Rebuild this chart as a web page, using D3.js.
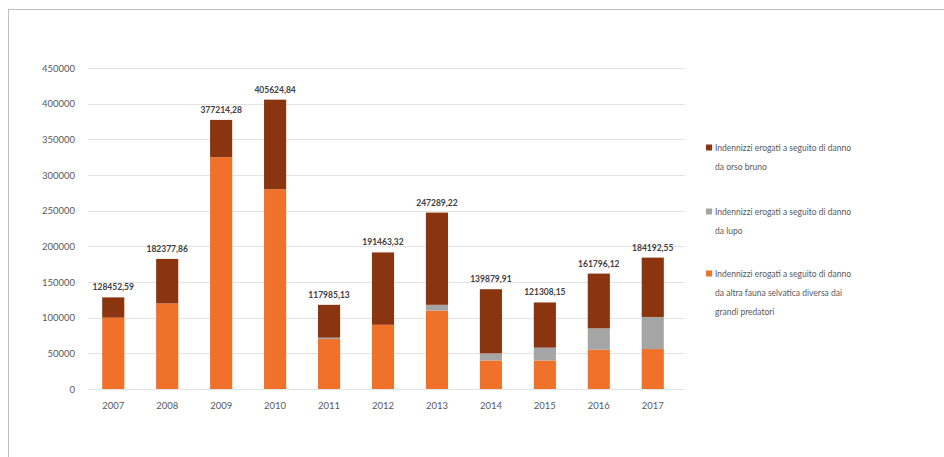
<!DOCTYPE html>
<html lang="it">
<head>
<meta charset="UTF-8">
<title>Indennizzi erogati</title>
<style>
    body{ margin:0; overflow:hidden; background:#fff; }
    text{ font-family: Lato, "Open Sans", sans-serif; }
</style>
</head>
<body>
<script src="https://cdnjs.cloudflare.com/ajax/libs/d3/7.8.2/d3.min.js"></script>
<script>
const years = ["2007","2008","2009","2010","2011","2012","2013","2014","2015","2016","2017"];
const altraFauna = [100000, 120000, 325000, 280000, 70000, 90000, 110000, 40000, 40000, 55000, 56000];
const lupo = [0, 0, 0, 0, 2000, 0, 8000, 10000, 18000, 30000, 45000];
const orso = [28452.59, 62377.86, 52214.28, 125624.84, 45985.13, 101463.32, 129289.22, 89879.91, 63308.15, 76796.12, 83192.55];
const totalLabels = ["128452,59","182377,86","377214,28","405624,84","117985,13","191463,32","247289,22","139879,91","121308,15","161796,12","184192,55"];
const yTicks = [0,50000,100000,150000,200000,250000,300000,350000,400000,450000];
const seriesNames = [
  ["Indennizzi erogati a seguito di danno", "da orso bruno"],
  ["Indennizzi erogati a seguito di danno", "da lupo"],
  ["Indennizzi erogati a seguito di danno", "da altra fauna selvatica diversa dai", "grandi predatori"]
];
const colors = {altra:"#f0712a", lupo:"#a5a5a5", orso:"#8a3510"};

const W = 944, H = 457;
const svg = d3.select('body').append('svg').attr('width', W).attr('height', H);

// frame
svg.append('rect').attr('x', 8.5).attr('y', 9.5).attr('width', W).attr('height', H)
  .attr('fill', 'none').attr('stroke', '#bfbfbf');

const x = d3.scaleBand().domain(years).range([86, 680]).paddingInner(0.59).paddingOuter(0.3);
const y = d3.scaleLinear().domain([0, 450000]).range([389, 68]);

// grid
svg.append('g').selectAll('line').data(yTicks).join('line')
  .attr('x1', 88).attr('x2', 685)
  .attr('y1', d => Math.round(y(d)) + 0.5).attr('y2', d => Math.round(y(d)) + 0.5)
  .attr('stroke', '#e3e3e3');

const yAxis = svg.append('g').attr('transform', 'translate(75,0)')
  .call(d3.axisLeft(y).tickValues(yTicks).tickFormat(d3.format('d')).tickSize(0));
yAxis.select('.domain').remove();
yAxis.selectAll('text').attr('fill', '#595959').attr('font-size', 9.5).attr('dx', 0).attr('x', 0);

const xAxis = svg.append('g').attr('transform', 'translate(0,399)')
  .call(d3.axisBottom(x).tickSize(0));
xAxis.select('.domain').remove();
xAxis.selectAll('text').attr('fill', '#595959').attr('font-size', 9.5);

// stacks
const rows = years.map((yr, i) => ({year: yr, altra: altraFauna[i], lupo: lupo[i], orso: orso[i]}));
const stack = d3.stack().keys(['altra','lupo','orso'])(rows);

svg.append('g').selectAll('g').data(stack).join('g')
  .attr('fill', d => colors[d.key])
  .selectAll('rect').data(d => d).join('rect')
  .attr('x', d => x(d.data.year))
  .attr('width', x.bandwidth())
  .attr('y', d => y(d[1]))
  .attr('height', d => y(d[0]) - y(d[1]));

// total labels
svg.append('g').selectAll('text').data(rows).join('text')
  .attr('x', d => x(d.year) + x.bandwidth() / 2)
  .attr('y', d => y(d.altra + d.lupo + d.orso) - 7)
  .attr('text-anchor', 'middle')
  .attr('font-size', 8.5).attr('font-weight', 'bold').attr('fill', '#404040')
  .text((d, i) => totalLabels[i]);

// legend
const legendKeys = ['orso','lupo','altra'];
const legendY = [148, 212, 274];
const lg = svg.append('g').selectAll('g').data(legendKeys).join('g')
  .attr('transform', (d, i) => `translate(706,${legendY[i]})`);
lg.append('rect').attr('x', 0).attr('y', -3.5).attr('width', 6).attr('height', 6)
  .attr('fill', d => colors[d]);
lg.append('text').attr('x', 9).attr('font-size', 8.5).attr('fill', '#595959')
  .selectAll('tspan').data((d, i) => seriesNames[i]).join('tspan')
  .attr('x', 9).attr('y', (d, j) => j * 19 + 3)
  .text(d => d);
</script>
</body>
</html>
